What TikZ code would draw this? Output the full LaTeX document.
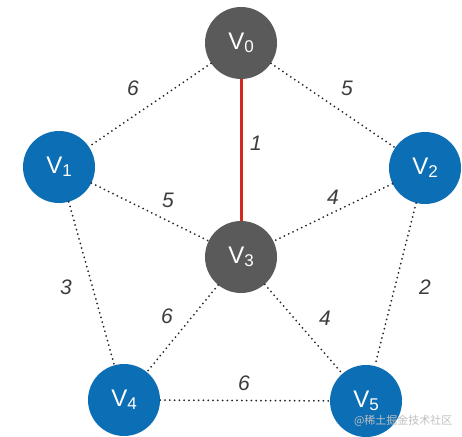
\documentclass[tikz,border=0pt]{standalone}
\usepackage{fontspec}
\setmainfont{Liberation Sans}
\newfontfamily\cjkfont{Noto Sans CJK SC}
\usetikzlibrary{positioning}
\definecolor{vgray}{RGB}{90,90,90}
\definecolor{vblue}{RGB}{12,110,180}
\definecolor{vred}{RGB}{212,40,30}
\definecolor{wtext}{RGB}{60,60,60}
\newcommand{\vname}[1]{V\raisebox{-3pt}{\fontsize{17}{17}\selectfont #1}}
\tikzset{
  vert/.style  ={circle, minimum size=72pt, inner sep=0pt, text=white,
                 font=\fontsize{24}{24}\selectfont},
  vg/.style    ={vert, fill=vgray},
  vb/.style    ={vert, fill=vblue},
  dotline/.style={draw=black!85, line width=2pt, line cap=round,
                 dash pattern=on 0pt off 4.8pt},
  redline/.style={draw=vred, line width=3pt},
  wt/.style    ={font=\fontsize{21}{21}\selectfont\itshape, text=wtext}
}
\begin{document}
\begin{tikzpicture}[x=1pt,y=-1pt]
\useasboundingbox (0,0) rectangle (462,436);

\node[vg] (v0) at (241, 43) {\vname{0}};
\node[vb] (v1) at ( 59,167) {\vname{1}};
\node[vb] (v2) at (425,168) {\vname{2}};
\node[vg] (v3) at (241,257) {\vname{3}};
\node[vb] (v4) at (124,400) {\vname{4}};
\node[vb] (v5) at (366,401) {\vname{5}};

% edges
\foreach \a/\b in {v0/v1,v0/v2,v1/v3,v2/v3,v1/v4,v3/v4,v3/v5,v2/v5,v4/v5}
  {\draw[dotline] (\a) -- (\b);}
\draw[redline] (v0) -- (v3);

% weights
\node[wt] (w01) at (133, 88) {6};
\node[wt] (w02) at (347, 88) {5};
\node[wt] (w03) at (256,143) {1};
\node[wt] (w13) at (168,200) {5};
\node[wt] (w23) at (333,197) {4};
\node[wt] (w14) at ( 66,287) {3};
\node[wt] (w34) at (167,316) {6};
\node[wt] (w35) at (325,318) {4};
\node[wt] (w25) at (425,287) {2};
\node[wt] (w45) at (244,383) {6};

\node[text=black!25, font=\cjkfont\fontsize{11}{11}\selectfont, anchor=east]
  (mark) at (456,421) {@稀土掘金技术社区};
\end{tikzpicture}
\end{document}
